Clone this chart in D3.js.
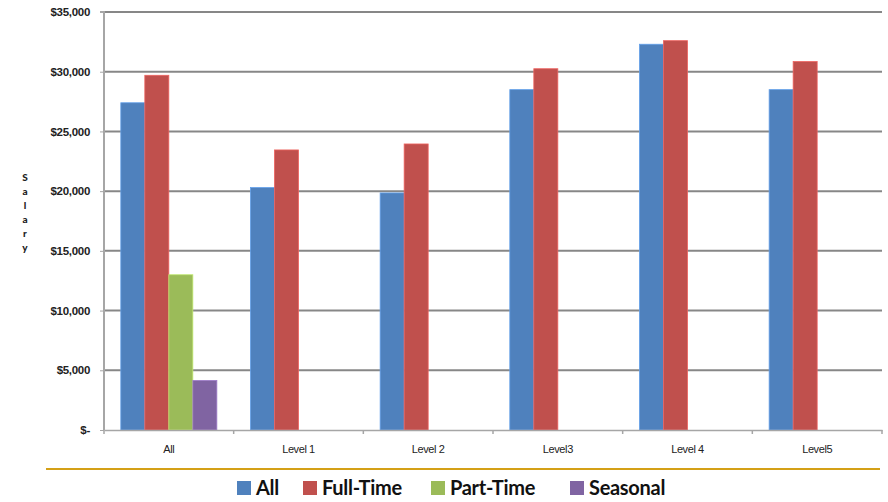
<!DOCTYPE html>
<html>
<head>
<meta charset="utf-8">
<script src="https://cdn.jsdelivr.net/npm/d3@7"></script>
<style>
  html, body { margin: 0; padding: 0; background: #fff; }
  svg { display: block; font-family: Lato, "Open Sans", sans-serif; }
</style>
</head>
<body>
<svg id="chart" width="888" height="502"></svg>
<script>
// Salary by level and employment type
const categories = ["All", "Level 1", "Level 2", "Level3", "Level 4", "Level5"];
const seriesNames = ["All", "Full-Time", "Part-Time", "Seasonal"];
const seriesColors = ["#4F81BD", "#C0504D", "#9BBB59", "#8064A2"];
const allValues      = [27400, 20300, 19850, 28500, 32300, 28500];
const fullTimeValues = [29700, 23450, 23950, 30250, 32600, 30850];
const partTimeValues = [13000, null, null, null, null, null];
const seasonalValues = [4150, null, null, null, null, null];
const yTicks = [0, 5000, 10000, 15000, 20000, 25000, 30000, 35000];
const yTitle = "Salary";

const seriesValues = [allValues, fullTimeValues, partTimeValues, seasonalValues];

const svg = d3.select("#chart");
const margin = { left: 104, right: 882, top: 12, bottom: 430 };

const x = d3.scaleBand().domain(categories).range([margin.left, margin.right]).paddingInner(0).paddingOuter(0);
const xs = d3.scaleBand().domain(seriesNames).range([0, x.bandwidth()]).paddingInner(0).paddingOuter(0.7);
const y = d3.scaleLinear().domain([0, 35000]).range([margin.bottom, margin.top]);

// horizontal gridlines
svg.append("g").selectAll("line").data(yTicks.filter(d => d > 0)).join("line")
  .attr("x1", margin.left).attr("x2", margin.right)
  .attr("y1", d => y(d)).attr("y2", d => y(d))
  .attr("stroke", "#878787").attr("stroke-width", 2);

// bars
const rows = [];
categories.forEach((c, i) => seriesNames.forEach((s, j) => {
  const v = seriesValues[j][i];
  if (v != null) rows.push({ c, s, v, color: seriesColors[j] });
}));
svg.append("g").selectAll("rect").data(rows).join("rect")
  .attr("x", d => x(d.c) + xs(d.s))
  .attr("width", xs.bandwidth())
  .attr("y", d => y(d.v))
  .attr("height", d => y(0) - y(d.v))
  .attr("fill", d => d.color)
  .attr("stroke", d => d3.color(d.color).brighter(0.6))
  .attr("stroke-width", 0.8);

// y axis
const yAxis = d3.axisLeft(y).tickValues(yTicks).tickSize(4)
  .tickFormat(d => d === 0 ? "$-" : "$" + d3.format(",")(d));
const gy = svg.append("g").attr("transform", `translate(${margin.left},0)`).call(yAxis);
gy.select(".domain").attr("stroke", "#a6a6a6").attr("stroke-width", 2).attr("d", `M-4,${margin.top}H0V${margin.bottom}`);
gy.selectAll(".tick line").attr("stroke", "#a6a6a6");
gy.selectAll(".tick text").attr("x", -14).attr("font-size", 11.5).attr("font-weight", "bold")
  .attr("fill", "#222").attr("letter-spacing", -0.3);

// x axis
const xAxis = d3.axisBottom(x).tickSize(0).tickPadding(15);
const gx = svg.append("g").attr("transform", `translate(0,${margin.bottom})`).call(xAxis);
gx.select(".domain").attr("stroke", "#a6a6a6").attr("stroke-width", 1.5);
gx.selectAll(".tick text").attr("font-size", 11).attr("fill", "#222").attr("letter-spacing", -0.4);
svg.append("g").selectAll("line").data(categories.map(c => x(c)).concat([margin.right])).join("line")
  .attr("x1", d => d).attr("x2", d => d)
  .attr("y1", margin.bottom).attr("y2", margin.bottom + 4)
  .attr("stroke", "#a6a6a6").attr("stroke-width", 1.5);

// y axis title, one letter per line
svg.append("g").selectAll("text").data(yTitle.split("")).join("text")
  .attr("x", 25).attr("y", (d, i) => 181 + i * 14)
  .attr("text-anchor", "middle").attr("font-size", 10).attr("font-weight", "900").attr("fill", "#222")
  .text(d => d);

// separator line above legend
svg.append("line").attr("x1", 46).attr("x2", 880).attr("y1", 469).attr("y2", 469)
  .attr("stroke", "#D4A017").attr("stroke-width", 2);

// legend
const legendX = [237, 303, 431, 570];
const lg = svg.append("g").selectAll("g").data(seriesNames).join("g")
  .attr("transform", (d, i) => `translate(${legendX[i]},481)`);
lg.append("rect").attr("width", 14).attr("height", 14).attr("fill", (d, i) => seriesColors[i]);
lg.append("text").attr("x", 19).attr("y", 14).attr("font-size", 20).attr("font-weight", "bold")
  .attr("fill", "#111").attr("letter-spacing", -0.3).text(d => d);
</script>
</body>
</html>
